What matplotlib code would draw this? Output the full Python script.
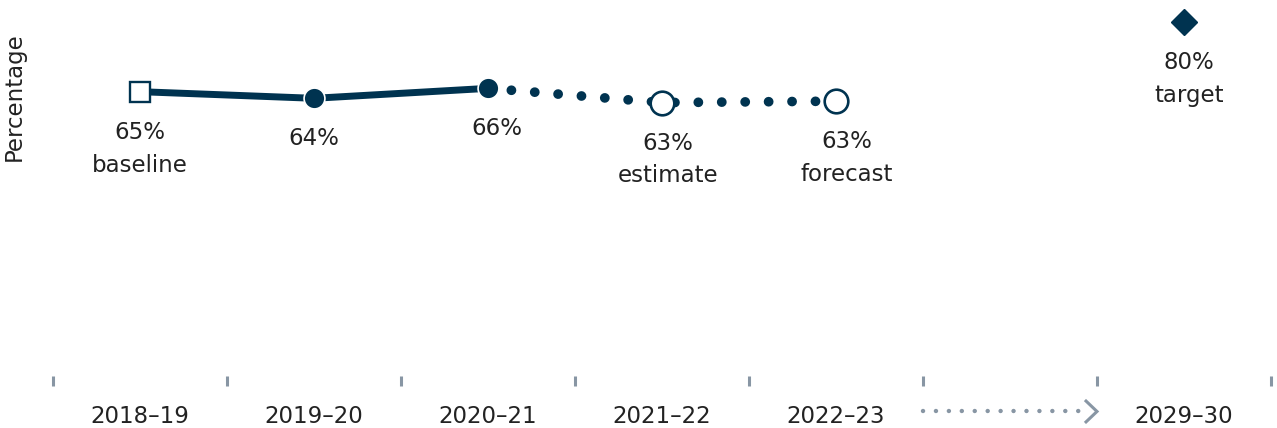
import numpy as np
import matplotlib
matplotlib.use("Agg")
import matplotlib.pyplot as plt

# data
periods = ["2018–19", "2019–20", "2020–21", "2021–22", "2022–23", "", "2029–30"]
actual_x = [0, 1, 2]
actual_y = [65.4, 64.0, 66.1]
proj_x = [2, 3, 4]
proj_y = [66.1, 63.1, 63.4]
target_x = 6
target_y = 80.0
labels = ["65%\nbaseline", "64%", "66%", "63%\nestimate", "63%\nforecast"]
target_label = "80%\ntarget"

navy = "#003350"
grey = "#8896a4"
txt = "#222222"

plt.rcParams['font.family'] = ['DejaVu Sans']
plt.rcParams['font.size'] = 16.5

fig = plt.figure(figsize=(12.77, 4.28), dpi=100)
ax = fig.add_axes([53 / 1277, 1 - 386 / 428, (1271 - 53) / 1277, 386 / 428])
ax.set_xlim(-0.5, 6.5)
ax.set_ylim(3.43, 84.7)
for s in ax.spines.values():
    s.set_visible(False)

# solid part
ax.plot(actual_x, actual_y, color=navy, lw=5, solid_capstyle='butt', zorder=2)
# dotted projection
ax.plot(proj_x, proj_y, color=navy, lw=7, linestyle=(0, (0.01, 2.4)),
        dash_capstyle='round', zorder=2)

# markers
ax.plot(actual_x[0], actual_y[0], marker='s', ms=15, mfc='white', mec=navy, mew=1.7,
        zorder=3)
ax.plot(actual_x[1:], actual_y[1:], 'o', ms=15, mfc=navy, mec='white', mew=1.2,
        zorder=3)
ax.plot(proj_x[1:], proj_y[1:], 'o', ms=17, mfc='white', mec=navy, mew=1.9, zorder=3)
ax.plot(target_x, target_y, 'D', ms=13.5, color=navy, zorder=3)

# value labels
all_x = actual_x + proj_x[1:]
all_y = actual_y + proj_y[1:]
dxs = [0, 0, 9, 6, 11]
for x, y, lab, dx in zip(all_x, all_y, labels, dxs):
    ax.annotate(lab, (x, y), xytext=(dx, -29), textcoords='offset pixels',
                ha='center', va='top', color=txt, linespacing=1.55)
ax.annotate(target_label, (target_x, target_y), xytext=(5, -29),
            textcoords='offset pixels', ha='center', va='top', color=txt,
            linespacing=1.55)

# axis ticks
ax.set_yticks([])
ax.set_xticks(range(len(periods)))
ax.set_xticklabels(periods, color=txt)
ax.tick_params(axis='x', which='major', length=0, pad=13.5)
ax.set_xticks(np.arange(-0.5, 7, 1), minor=True)
ax.tick_params(axis='x', which='minor', direction='in', length=7.2, width=2.2,
               color=grey)

ax.set_ylabel("Percentage", color=txt)
ax.yaxis.set_label_coords(-0.0225, 0.75)

# gap arrow between 2022-23 and 2029-30
tr = ax.get_xaxis_transform()
ax.plot([4.5, 5.43], [-0.066, -0.066], transform=tr, clip_on=False, color=grey,
        lw=3.2, linestyle=(0, (0.01, 2.9)), dash_capstyle='round')
ax.plot([5.437, 5.5, 5.437], [-0.039, -0.066, -0.093], transform=tr, clip_on=False,
        color=grey, lw=2.2, solid_joinstyle='miter')

fig.savefig("out.png", dpi=100)
